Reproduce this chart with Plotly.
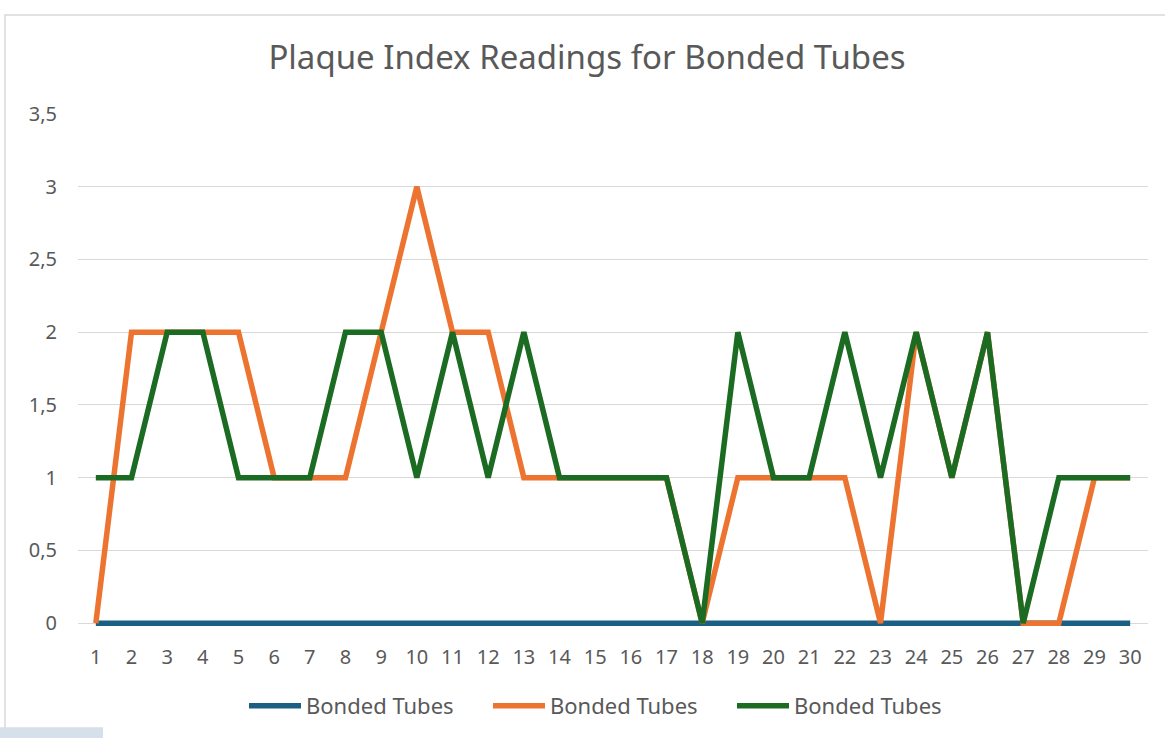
import plotly.graph_objects as go

categories = list(range(1, 31))
tick_labels = [str(c) for c in categories]
series_names = ["Bonded Tubes", "Bonded Tubes", "Bonded Tubes"]
blue_values = [0] * 30
orange_values = [0, 2, 2, 2, 2, 1, 1, 1, 2, 3, 2, 2, 1, 1, 1, 1, 1, 0, 1, 1,
                 1, 1, 0, 2, 1, 2, 0, 0, 1, 1]
green_values = [1, 1, 2, 2, 1, 1, 1, 2, 2, 1, 2, 1, 2, 1, 1, 1, 1, 0, 2, 1,
                1, 2, 1, 2, 1, 2, 0, 1, 1, 1]
colors = ["#1b5f84", "#ed7430", "#1b6b22"]

W, H = 1165, 738
Y0_PX, Y35_PX = 623, 114            # pixel rows of 0 and 3.5
PAD = 0.04                          # small range pad below 0 so lines at 0 are not clipped
ppu = (Y0_PX - Y35_PX) / 3.5
L, R, T, B = 78, 1148, Y35_PX, Y0_PX + PAD * ppu

fig = go.Figure()
for name, vals, col in zip(series_names, [blue_values, orange_values, green_values], colors):
    fig.add_trace(go.Scatter(
        x=categories, y=vals, mode="lines", name=name,
        line=dict(color=col, width=5.5), showlegend=True,
    ))

def px(x):
    return (x - L) / (R - L)

def py(y):
    return (B - y) / (B - T)

fig.update_layout(
    width=W, height=H,
    margin=dict(l=L, r=W - R, t=T, b=H - B, pad=0),
    paper_bgcolor="white", plot_bgcolor="white",
    separators=",.",
    font=dict(family="Noto Sans, DejaVu Sans, sans-serif", color="#595959", size=20),
    title=dict(text="Plaque Index Readings for Bonded Tubes", x=587 / W, xref="container",
               y=1 - 57 / H, yref="container", xanchor="center", yanchor="middle",
               font=dict(size=33, color="#595959")),
    xaxis=dict(range=[0.5, 30.5], tickmode="array", tickvals=categories, ticktext=tick_labels,
               showgrid=False, zeroline=False, showline=False, ticks="",
               ticklabelstandoff=int(round(20 - PAD * ppu)), tickfont=dict(size=20, color="#595959")),
    yaxis=dict(range=[-PAD, 3.5], dtick=0.5, tick0=0, showgrid=True, gridcolor="#d9d9d9",
               gridwidth=1.3, zeroline=False, showline=False, ticks="",
               ticklabelstandoff=20, tickfont=dict(size=20, color="#595959")),
    legend=dict(orientation="h", x=610 / W, xref="container", xanchor="center",
                y=1 - 706 / H, yref="container", yanchor="middle",
                font=dict(size=22, color="#595959"), itemwidth=52,
                tracegroupgap=0, entrywidth=177, entrywidthmode="pixels"),
    shapes=[
        dict(type="rect", xref="paper", yref="paper",
             x0=px(5), x1=px(1175), y0=py(760), y1=py(15),
             line=dict(color="#d9d9d9", width=1.5), fillcolor="rgba(0,0,0,0)", layer="below"),
        dict(type="rect", xref="paper", yref="paper",
             x0=px(-2), x1=px(103), y0=py(745), y1=py(727),
             line=dict(width=0), fillcolor="#d6e0ea", layer="above"),
    ],
)

fig.write_html("out.html", config={"displayModeBar": False},
               post_script="document.body.style.margin='0';document.body.style.overflow='hidden';")
